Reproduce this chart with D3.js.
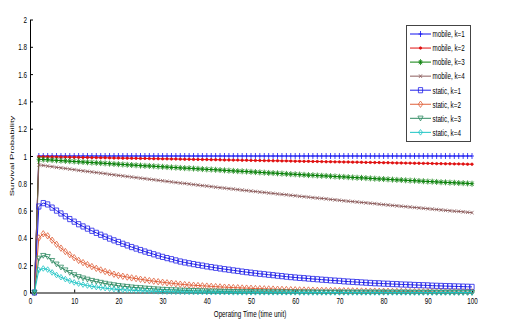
<!DOCTYPE html>
<html>
<head>
<meta charset="utf-8">
<script src="https://cdn.jsdelivr.net/npm/d3@7"></script>
<style>
body { margin: 0; background: #fff; }
text { font-family: "Liberation Sans", Arial, sans-serif; fill: #000; }
</style>
</head>
<body>
<script>
var width = 505;
var height = 329;

// operating time steps
var time = d3.range(1, 101);

var xTicks = [0, 10, 20, 30, 40, 50, 60, 70, 80, 90, 100];
var yTicks = [0, 0.2, 0.4, 0.6, 0.8, 1, 1.2, 1.4, 1.6, 1.8, 2];

var mobileK1 = [0,
  1, 1, 1, 1, 1, 1, 1, 1, 1, 1, 1, 1, 1, 1, 1, 1, 1, 1, 1, 1, 1, 1, 1, 1, 1, 1, 1, 1, 1, 1, 1, 1, 1,
  1, 1, 1, 1, 1, 1, 1, 1, 1, 1, 1, 1, 1, 1, 1, 1, 1, 1, 1, 1, 1, 1, 1, 1, 1, 1, 1, 1, 1, 1, 1, 1, 1,
  1, 1, 1, 1, 1, 1, 1, 1, 1, 1, 1, 1, 1, 1, 1, 1, 1, 1, 1, 1, 1, 1, 1, 1, 1, 1, 1, 1, 1, 1, 1, 1, 1];

var mobileK2 = [0, 0.995, 0.994, 0.994, 0.993, 0.993, 0.992, 0.992, 0.991, 0.991,
  0.990, 0.989, 0.989, 0.988, 0.988, 0.987, 0.987, 0.986, 0.985, 0.985,
  0.984, 0.984, 0.983, 0.983, 0.982, 0.982, 0.981, 0.980, 0.980, 0.979,
  0.979, 0.978, 0.978, 0.977, 0.976, 0.976, 0.975, 0.975, 0.974, 0.974,
  0.973, 0.973, 0.972, 0.971, 0.971, 0.970, 0.970, 0.969, 0.969, 0.968,
  0.967, 0.967, 0.966, 0.966, 0.965, 0.965, 0.964, 0.964, 0.963, 0.962,
  0.962, 0.961, 0.961, 0.960, 0.960, 0.959, 0.958, 0.958, 0.957, 0.957,
  0.956, 0.956, 0.955, 0.955, 0.954, 0.953, 0.953, 0.952, 0.952, 0.951,
  0.951, 0.950, 0.949, 0.949, 0.948, 0.948, 0.947, 0.947, 0.946, 0.946,
  0.945, 0.944, 0.944, 0.943, 0.943, 0.942, 0.942, 0.941, 0.940, 0.940];

var mobileK3 = [0, 0.976, 0.974, 0.972, 0.970, 0.968, 0.966, 0.964, 0.962, 0.960,
  0.958, 0.956, 0.954, 0.952, 0.950, 0.948, 0.946, 0.944, 0.942, 0.940,
  0.938, 0.936, 0.934, 0.932, 0.930, 0.928, 0.927, 0.925, 0.923, 0.921,
  0.919, 0.917, 0.915, 0.913, 0.911, 0.910, 0.908, 0.906, 0.904, 0.902,
  0.901, 0.899, 0.897, 0.895, 0.893, 0.891, 0.889, 0.888, 0.886, 0.884,
  0.882, 0.880, 0.878, 0.876, 0.875, 0.873, 0.871, 0.869, 0.867, 0.866,
  0.864, 0.862, 0.860, 0.859, 0.857, 0.855, 0.854, 0.852, 0.850, 0.848,
  0.847, 0.845, 0.843, 0.841, 0.840, 0.838, 0.836, 0.834, 0.832, 0.831,
  0.829, 0.827, 0.825, 0.824, 0.822, 0.820, 0.819, 0.817, 0.815, 0.813,
  0.812, 0.810, 0.808, 0.807, 0.805, 0.804, 0.802, 0.801, 0.799, 0.797];

var mobileK4 = [0, 0.935, 0.931, 0.926, 0.922, 0.917, 0.913, 0.909, 0.904, 0.900,
  0.895, 0.891, 0.887, 0.883, 0.879, 0.875, 0.871, 0.866, 0.862, 0.858,
  0.854, 0.850, 0.846, 0.842, 0.838, 0.834, 0.830, 0.826, 0.822, 0.818,
  0.814, 0.810, 0.806, 0.802, 0.799, 0.795, 0.791, 0.787, 0.783, 0.780,
  0.776, 0.772, 0.768, 0.765, 0.761, 0.758, 0.754, 0.750, 0.747, 0.743,
  0.740, 0.736, 0.733, 0.729, 0.726, 0.722, 0.719, 0.716, 0.712, 0.709,
  0.705, 0.702, 0.699, 0.695, 0.692, 0.689, 0.686, 0.682, 0.679, 0.676,
  0.672, 0.669, 0.666, 0.663, 0.660, 0.657, 0.654, 0.651, 0.647, 0.644,
  0.641, 0.638, 0.635, 0.632, 0.629, 0.626, 0.623, 0.620, 0.617, 0.614,
  0.611, 0.608, 0.605, 0.602, 0.599, 0.596, 0.594, 0.591, 0.588, 0.585];

var staticK1 = [0, 0.630, 0.655, 0.645, 0.622, 0.600, 0.579, 0.558, 0.538, 0.519,
  0.500, 0.484, 0.468, 0.452, 0.437, 0.423, 0.409, 0.395, 0.382, 0.370,
  0.357, 0.345, 0.333, 0.322, 0.311, 0.300, 0.290, 0.280, 0.270, 0.261,
  0.252, 0.244, 0.235, 0.227, 0.220, 0.214, 0.208, 0.202, 0.197, 0.191,
  0.186, 0.181, 0.176, 0.171, 0.167, 0.162, 0.158, 0.153, 0.149, 0.145,
  0.141, 0.137, 0.134, 0.130, 0.127, 0.123, 0.120, 0.116, 0.113, 0.110,
  0.107, 0.105, 0.102, 0.099, 0.097, 0.094, 0.092, 0.089, 0.087, 0.085,
  0.082, 0.080, 0.078, 0.076, 0.074, 0.072, 0.070, 0.068, 0.067, 0.065,
  0.064, 0.062, 0.061, 0.059, 0.058, 0.057, 0.055, 0.054, 0.053, 0.052,
  0.050, 0.049, 0.048, 0.047, 0.046, 0.045, 0.044, 0.043, 0.042, 0.041];

var staticK2 = [0, 0.400, 0.430, 0.415, 0.383, 0.353, 0.325, 0.300, 0.277, 0.255,
  0.235, 0.219, 0.204, 0.190, 0.177, 0.165, 0.154, 0.144, 0.134, 0.125,
  0.119, 0.113, 0.107, 0.102, 0.097, 0.092, 0.087, 0.083, 0.079, 0.075,
  0.071, 0.068, 0.064, 0.061, 0.058, 0.055, 0.053, 0.051, 0.049, 0.047,
  0.045, 0.043, 0.041, 0.039, 0.038, 0.036, 0.035, 0.033, 0.032, 0.031,
  0.029, 0.028, 0.027, 0.026, 0.025, 0.024, 0.023, 0.022, 0.021, 0.020,
  0.019, 0.018, 0.018, 0.017, 0.016, 0.016, 0.015, 0.015, 0.014, 0.013,
  0.013, 0.012, 0.012, 0.011, 0.011, 0.010, 0.010, 0.010, 0.009, 0.009,
  0.009, 0.008, 0.008, 0.008, 0.007, 0.007, 0.007, 0.006, 0.006, 0.006,
  0.006, 0.005, 0.005, 0.005, 0.005, 0.005, 0.004, 0.004, 0.004, 0.004];

var staticK3 = [0, 0.250, 0.270, 0.262, 0.233, 0.207, 0.184, 0.164, 0.145, 0.129,
  0.115, 0.105, 0.096, 0.087, 0.080, 0.073, 0.066, 0.060, 0.055, 0.050,
  0.046, 0.043, 0.039, 0.036, 0.034, 0.031, 0.029, 0.026, 0.024, 0.022,
  0.021, 0.019, 0.018, 0.016, 0.015, 0.014, 0.013, 0.012, 0.011, 0.010,
  0.009, 0.009, 0.008, 0.007, 0.007, 0.006, 0.006, 0.005, 0.005, 0.005,
  0.004, 0.004, 0.004, 0.003, 0.003, 0.003, 0.003, 0.002, 0.002, 0.002,
  0.002, 0.002, 0.002, 0.002, 0.001, 0.001, 0.001, 0.001, 0.001, 0.001,
  0.001, 0.001, 0.001, 0.001, 0.001, 0.001, 0.001, 0.001, 0.001, 0.001,
  0.001, 0.001, 0.001, 0.001, 0.001, 0, 0, 0, 0, 0,
  0, 0, 0, 0, 0, 0, 0, 0, 0, 0];

var staticK4 = [0, 0.165, 0.176, 0.168, 0.147, 0.128, 0.112, 0.098, 0.085, 0.074,
  0.065, 0.058, 0.051, 0.045, 0.040, 0.036, 0.032, 0.028, 0.025, 0.022,
  0.020, 0.018, 0.016, 0.014, 0.013, 0.011, 0.010, 0.009, 0.008, 0.007,
  0.006, 0.006, 0.005, 0.005, 0.004, 0.004, 0.003, 0.003, 0.003, 0.002,
  0.002, 0.002, 0.002, 0.002, 0.002, 0.001, 0.001, 0.001, 0.001, 0.001,
  0.001, 0.001, 0.001, 0.001, 0.001, 0.001, 0.001, 0.001, 0.001, 0.001,
  0, 0, 0, 0, 0, 0, 0, 0, 0, 0,
  0, 0, 0, 0, 0, 0, 0, 0, 0, 0,
  0, 0, 0, 0, 0, 0, 0, 0, 0, 0,
  0, 0, 0, 0, 0, 0, 0, 0, 0, 0];

var seriesNames = ['mobile, k=1', 'mobile, k=2', 'mobile, k=3', 'mobile, k=4',
                   'static, k=1', 'static, k=2', 'static, k=3', 'static, k=4'];

// marker shapes, drawn a bit narrow like the squashed original
var markers = {
  plus: 'M-2,0H2M0,-3V3',
  dot: 'M-1.2,0a1.2,1.2 0 1,0 2.4,0a1.2,1.2 0 1,0 -2.4,0',
  star: 'M-2.2,0H2.2M0,-3V3M-1.6,-2.1L1.6,2.1M-1.6,2.1L1.6,-2.1',
  cross: 'M-1.5,-1.8L1.5,1.8M-1.5,1.8L1.5,-1.8',
  square: 'M-2.1,-2.6H2.1V2.6H-2.1Z',
  diamond: 'M0,-3.2L2.2,0L0,3.2L-2.2,0Z',
  triangle: 'M-2.6,-2.2H2.6L0,2.6Z',
  smalldiamond: 'M0,-2.8L2,0L0,2.8L-2,0Z'
};

var series = [
  { name: seriesNames[0], values: mobileK1, color: '#1010f0', marker: 'plus' },
  { name: seriesNames[1], values: mobileK2, color: '#e01010', marker: 'dot' },
  { name: seriesNames[2], values: mobileK3, color: '#0a800a', marker: 'star' },
  { name: seriesNames[3], values: mobileK4, color: '#8c5c5c', marker: 'cross' },
  { name: seriesNames[4], values: staticK1, color: '#2020e8', marker: 'square' },
  { name: seriesNames[5], values: staticK2, color: '#e0603a', marker: 'diamond' },
  { name: seriesNames[6], values: staticK3, color: '#2f8a62', marker: 'triangle' },
  { name: seriesNames[7], values: staticK4, color: '#1cc4c4', marker: 'smalldiamond' }
];

var squash = 0.66;

var x = d3.scaleLinear().domain([0, 100]).range([30, 472]);
var y = d3.scaleLinear().domain([0, 2]).range([292.5, 19.5]);

var svg = d3.select('body').append('svg')
    .attr('width', width)
    .attr('height', height);

// axes, MATLAB style: ticks pointing inward, no box
var xAxis = d3.axisBottom(x)
    .tickValues(xTicks)
    .tickSizeInner(-3)
    .tickSizeOuter(0)
    .tickPadding(4.5)
    .tickFormat(d3.format('d'));

var yAxis = d3.axisLeft(y)
    .tickValues(yTicks)
    .tickSizeInner(-3)
    .tickSizeOuter(0)
    .tickPadding(3)
    .tickFormat(function(d) { return String(+d.toFixed(1)); });

var gx = svg.append('g')
    .attr('transform', 'translate(0,' + y(0) + ')')
    .call(xAxis);

var gy = svg.append('g')
    .attr('transform', 'translate(' + x(0) + ',0)')
    .call(yAxis);

svg.selectAll('.domain, .tick line').attr('stroke', '#000');
svg.selectAll('.tick text').attr('font-size', 9.5).attr('fill', '#000');

// lines and markers
var line = d3.line()
    .x(function(d, i) { return x(time[i]); })
    .y(function(d) { return y(d); });

var plots = svg.append('g').attr('class', 'plots');

series.forEach(function(s) {
  var g = plots.append('g');
  g.append('path')
      .attr('d', line(s.values))
      .attr('fill', 'none')
      .attr('stroke', s.color)
      .attr('stroke-width', 1);
  g.selectAll('path.mark')
      .data(s.values)
    .enter().append('path')
      .attr('class', 'mark')
      .attr('d', markers[s.marker])
      .attr('transform', function(d, i) { return 'translate(' + x(time[i]) + ',' + y(d) + ')'; })
      .attr('fill', s.marker === 'dot' ? s.color : 'none')
      .attr('stroke', s.color)
      .attr('stroke-width', 0.8);
});

// legend
var legend = svg.append('g').attr('class', 'legend');
legend.append('rect')
    .attr('x', 406.5)
    .attr('y', 25.5)
    .attr('width', 64)
    .attr('height', 116)
    .attr('fill', '#fff')
    .attr('stroke', '#444')
    .attr('stroke-width', 1);

var items = legend.selectAll('g.item')
    .data(series)
  .enter().append('g')
    .attr('class', 'item')
    .attr('transform', function(d, i) { return 'translate(0,' + (34 + i * 14.05) + ')'; });

items.append('line')
    .attr('x1', 410).attr('x2', 431)
    .attr('stroke', function(d) { return d.color; })
    .attr('stroke-width', 1);

items.append('path')
    .attr('d', function(d) { return markers[d.marker]; })
    .attr('transform', 'translate(420.5,0)')
    .attr('fill', function(d) { return d.marker === 'dot' ? d.color : 'none'; })
    .attr('stroke', function(d) { return d.color; })
    .attr('stroke-width', 0.8);

items.append('text')
    .attr('x', 432.5)
    .attr('dy', '0.35em')
    .attr('font-size', 9.5)
    .text(function(d) { return d.name; });

// axis titles
svg.append('text')
    .attr('class', 'xlabel')
    .attr('x', 250)
    .attr('y', 316.5)
    .attr('text-anchor', 'middle')
    .attr('font-size', 9.5)
    .text('Operating Time (time unit)');

svg.append('text')
    .attr('class', 'ylabel')
    .attr('transform', 'translate(14,156) scale(' + squash + ',1) rotate(-90)')
    .attr('text-anchor', 'middle')
    .attr('font-size', 9.5)
    .text('Survival Probability');

// the original figure is squashed horizontally: narrow every horizontal label
svg.selectAll('text').filter(function() { return !this.classList.contains('ylabel'); })
  .each(function() {
    var w = this.getComputedTextLength();
    d3.select(this)
        .attr('textLength', w * squash)
        .attr('lengthAdjust', 'spacingAndGlyphs');
  });
</script>
</body>
</html>
